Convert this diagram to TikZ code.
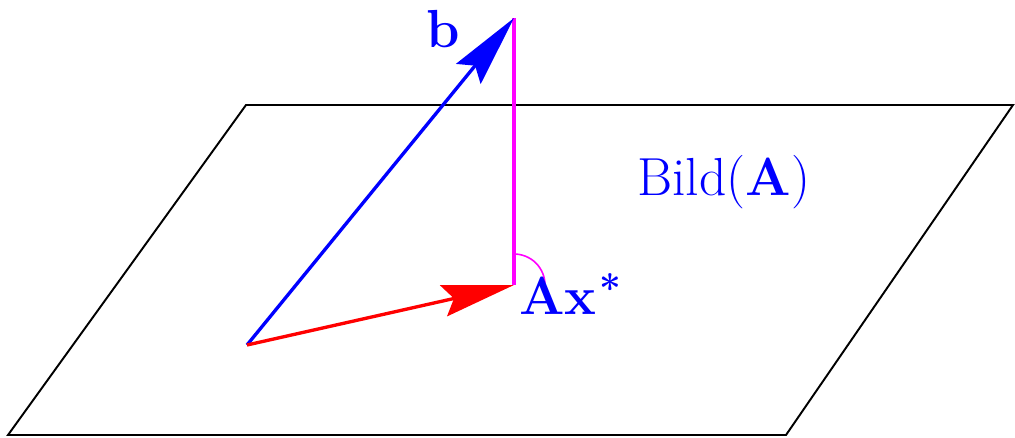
\documentclass[tikz,border=0pt]{standalone}
\usepackage{fontspec}
\usetikzlibrary{arrows.meta}
\definecolor{mag}{RGB}{255,0,255}
\definecolor{pblue}{RGB}{0,0,255}
\definecolor{pred}{RGB}{255,0,0}
\begin{document}
\begin{tikzpicture}[x=0.02cm,y=-0.02cm,
  plane/.style={draw=black,line width=1.1pt,line join=miter},
  vec/.style={line width=1.9pt,-{Stealth[length=41pt,width=18pt,inset=6pt]}},
  perp/.style={draw=mag,line width=2.2pt},
  lbl/.style={inner sep=0pt,font=\fontsize{30.5}{36}\selectfont}]
\useasboundingbox (0,0) rectangle (1015,437);
\coordinate (p1) at (8,435);
\coordinate (p2) at (786,435);
\coordinate (p3) at (1013,105);
\coordinate (p4) at (246,105);
\draw[plane] (p1) -- (p2) -- (p3) -- (p4) -- cycle;
\coordinate (o) at (247,345);
\coordinate (btip) at (514,18);
\coordinate (axs) at (514,285);
\draw[perp] (btip) -- (axs);
\draw[mag,line width=0.9pt] (514,254) arc[start angle=90,end angle=0,radius=0.62cm];
\draw[vec,pblue] (o) -- (btip);
\draw[vec,pred] (o) -- (axs);
\node[lbl,text=pblue,anchor=base] (lb) at (443,47) {\bfseries b};
\node[lbl,text=pblue,anchor=base west] (lax) at (519,314) {{\bfseries Ax}\hspace{0.05em}\raisebox{6.5pt}{\fontsize{22}{26}\selectfont\bfseries *}};
\node[lbl,text=pblue,anchor=base west] (lbild) at (637,195) {Bild({\bfseries A})};
\end{tikzpicture}
\end{document}
